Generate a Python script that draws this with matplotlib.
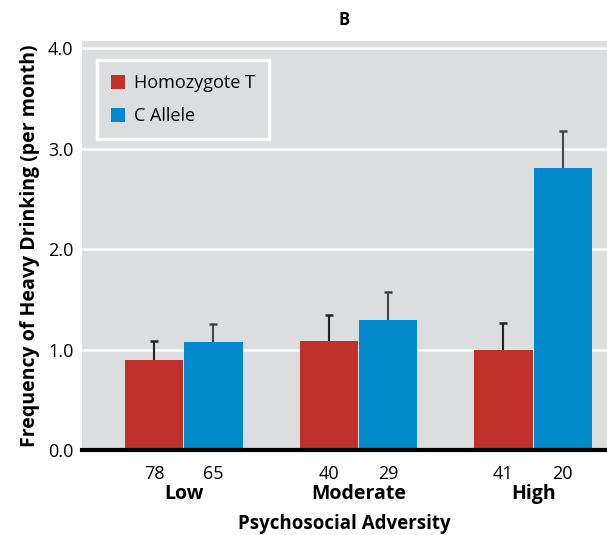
import numpy as np
import matplotlib.pyplot as plt
from matplotlib.transforms import blended_transform_factory

plt.rcParams['font.family'] = ['Open Sans', 'DejaVu Sans']

# data
groups = ['Low', 'Moderate', 'High']
homozygote_t = [0.90, 1.08, 1.00]
homozygote_t_err = [0.18, 0.26, 0.26]
c_allele = [1.07, 1.29, 2.81]
c_allele_err = [0.18, 0.28, 0.37]
n_homozygote_t = ['78', '40', '41']
n_c_allele = ['65', '29', '20']

red = '#C0302A'
blue = '#0089CB'
bg = '#DCDDDF'

fig = plt.figure(figsize=(6.07, 5.35), dpi=100)
ax = fig.add_axes([0.135, 0.159, 0.865, 0.764])
ax.set_facecolor(bg)

x = np.arange(len(groups))
w = 0.334
gap = 0.003
xr = x - w / 2 - gap
xb = x + w / 2 + gap
ax.bar(xr, homozygote_t, w, color=red, label='Homozygote T', zorder=3)
ax.bar(xb, c_allele, w, color=blue, label='C Allele', zorder=3)

# upper error bars only
for xs, vals, errs, col in [(xr, homozygote_t, homozygote_t_err, '#222222'),
                            (xb, c_allele, c_allele_err, '#444444')]:
    tops = np.array(vals) + np.array(errs)
    ax.vlines(xs, vals, tops, color=col, linewidth=1.5, zorder=2)
    ax.plot(xs, tops, linestyle='none', marker='_', markersize=5.5,
            markeredgewidth=1.8, color=col, zorder=2)

ax.set_xlim(-0.583, 2.423)
ax.set_ylim(0, 4.07)
ax.set_yticks([0, 1, 2, 3, 4])
ax.set_yticklabels(['0.0', '1.0', '2.0', '3.0', '4.0'], fontsize=13)
ax.yaxis.grid(True, color='white', linewidth=1.8, zorder=0)
ax.set_axisbelow(True)
ax.tick_params(axis='y', length=0, pad=6)

# sample sizes as tick labels, group names below
ax.set_xticks(list(xr) + list(xb))
ax.set_xticklabels(n_homozygote_t + n_c_allele, fontsize=13)
ax.tick_params(axis='x', length=0, pad=11)
trans = blended_transform_factory(ax.transData, ax.transAxes)
for xi, g in zip(x, groups):
    ax.text(xi, -0.107, g, transform=trans, ha='center', va='center',
            fontsize=14, fontweight='bold')
ax.set_xlabel('Psychosocial Adversity', fontsize=13.5, fontweight='bold', labelpad=22)
ax.set_ylabel('Frequency of Heavy Drinking (per month)', fontsize=14,
              fontweight='bold', labelpad=6)
ax.set_title('B', fontsize=12, fontweight='bold', pad=12)

for s in ['top', 'right', 'left']:
    ax.spines[s].set_visible(False)
ax.spines['bottom'].set_linewidth(3)
ax.spines['bottom'].set_color('black')
ax.spines['bottom'].set_zorder(4)

leg = ax.legend(loc='upper left', bbox_to_anchor=(0.012, 0.975), fontsize=13,
                frameon=True, fancybox=False, handlelength=0.8, handleheight=0.8,
                borderpad=0.75, labelspacing=0.85, handletextpad=0.5)
leg.get_frame().set_facecolor(bg)
leg.get_frame().set_edgecolor('white')
leg.get_frame().set_linewidth(2.5)
leg.get_frame().set_alpha(1)

fig.savefig('out.png', dpi=100, facecolor='white')
